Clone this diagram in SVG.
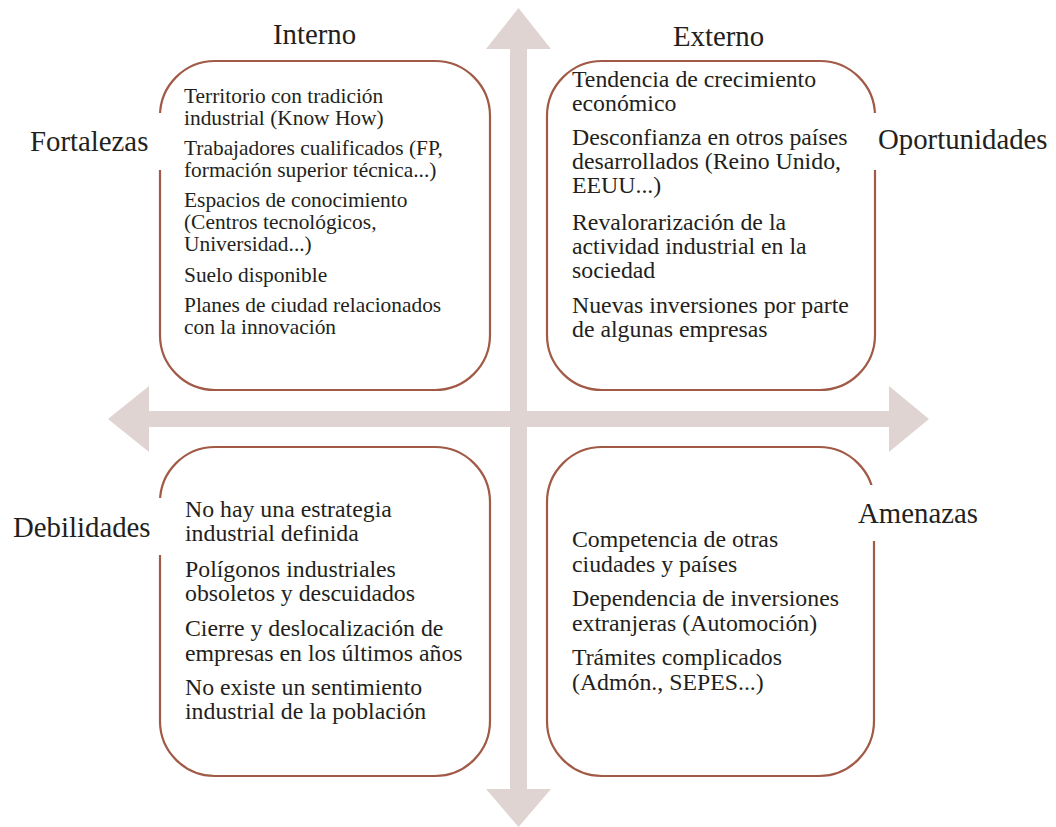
<svg xmlns="http://www.w3.org/2000/svg" width="1056" height="827" viewBox="0 0 1056 827">
<style>
.arrow{fill:#dfd4d1;stroke:none}
.box{fill:#ffffff;stroke:#a05a46;stroke-width:2.2}
.lblbg{fill:#ffffff;stroke:none}
text{fill:#231f20}
.hdr{font-size:28.8px}
.t21{font-size:21.4px}
.t24{font-size:23.8px}
</style>
<rect width="1056" height="827" fill="#ffffff"/>
<g id="connectors">
<polygon class="arrow" points="518.5,8 551,49 527,49 527,789 551,789 518.5,827 486,789 510,789 510,49 486,49"/>
<polygon class="arrow" points="108,419 149,386 149,411 889,411 889,386 929,419 889,452 889,427 149,427 149,452"/>
</g>
<g font-family="Liberation Serif, Times New Roman, DejaVu Serif, serif">
<g id="node-fortalezas">
<rect class="box" x="160" y="61" width="330" height="329" rx="55" ry="55"/>
<text class="t21" x="184"><tspan x="184" y="102.5">Territorio con tradición</tspan><tspan x="184" y="124.5">industrial (Know How)</tspan><tspan x="184" y="155">Trabajadores cualificados (FP,</tspan><tspan x="184" y="177">formación superior técnica...)</tspan><tspan x="184" y="207">Espacios de conocimiento</tspan><tspan x="184" y="229">(Centros tecnológicos,</tspan><tspan x="184" y="251">Universidad...)</tspan><tspan x="184" y="281.5">Suelo disponible</tspan><tspan x="184" y="311.5">Planes de ciudad relacionados</tspan><tspan x="184" y="333.5">con la innovación</tspan></text>
</g>
<g id="node-oportunidades">
<rect class="box" x="547" y="61" width="328" height="329" rx="55" ry="55"/>
<text class="t24" x="572"><tspan x="572" y="86.5">Tendencia de crecimiento</tspan><tspan x="572" y="110.5">económico</tspan><tspan x="572" y="145">Desconfianza en otros países</tspan><tspan x="572" y="169">desarrollados (Reino Unido,</tspan><tspan x="572" y="193">EEUU...)</tspan><tspan x="572" y="229.5">Revalorarización de la</tspan><tspan x="572" y="254">actividad industrial en la</tspan><tspan x="572" y="278">sociedad</tspan><tspan x="572" y="313">Nuevas inversiones por parte</tspan><tspan x="572" y="337">de algunas empresas</tspan></text>
</g>
<g id="node-debilidades">
<rect class="box" x="160" y="447" width="330" height="329" rx="55" ry="55"/>
<text class="t24" x="185"><tspan x="185" y="517">No hay una estrategia</tspan><tspan x="185" y="541">industrial definida</tspan><tspan x="185" y="576.5">Polígonos industriales</tspan><tspan x="185" y="601">obsoletos y descuidados</tspan><tspan x="185" y="636">Cierre y deslocalización de</tspan><tspan x="185" y="660.5">empresas en los últimos años</tspan><tspan x="185" y="695">No existe un sentimiento</tspan><tspan x="185" y="719">industrial de la población</tspan></text>
</g>
<g id="node-amenazas">
<rect class="box" x="547" y="447" width="327" height="329" rx="55" ry="55"/>
<text class="t24" x="572"><tspan x="572" y="547">Competencia de otras</tspan><tspan x="572" y="571.5">ciudades y países</tspan><tspan x="572" y="606">Dependencia de inversiones</tspan><tspan x="572" y="630.5">extranjeras (Automoción)</tspan><tspan x="572" y="665">Trámites complicados</tspan><tspan x="572" y="689.5">(Admón., SEPES...)</tspan></text>
</g>
<g id="label-interno">
<text class="hdr" x="273" y="44">Interno</text>
</g>
<g id="label-externo">
<text class="hdr" x="673" y="46">Externo</text>
</g>
<g id="label-fortalezas">
<rect class="lblbg" x="20" y="113" width="144" height="57"/>
<text class="hdr" x="30" y="150.7">Fortalezas</text>
</g>
<g id="label-oportunidades">
<rect class="lblbg" x="871" y="113" width="185" height="57"/>
<text class="hdr" x="878" y="149">Oportunidades</text>
</g>
<g id="label-debilidades">
<rect class="lblbg" x="5" y="498" width="159" height="57"/>
<text class="hdr" x="13" y="536.7">Debilidades</text>
</g>
<g id="label-amenazas">
<rect class="lblbg" x="870" y="485" width="130" height="56"/>
<text class="hdr" x="858" y="522.7">Amenazas</text>
</g>
</g>
</svg>
